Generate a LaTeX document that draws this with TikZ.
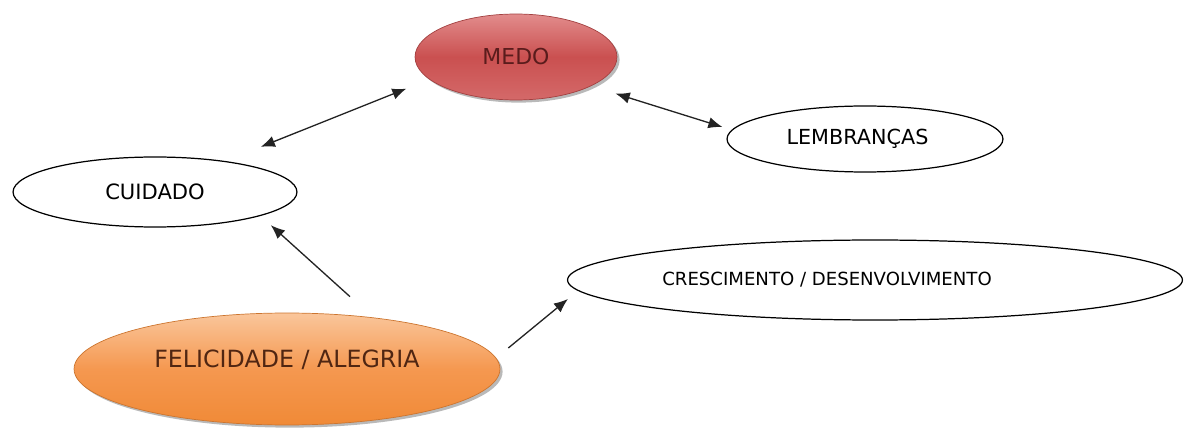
\documentclass[tikz,border=0pt]{standalone}
\usepackage{fontspec}
\setmainfont{DejaVu Sans}
\usetikzlibrary{shapes.geometric,shadows,arrows.meta}
\definecolor{medoTop}{RGB}{226,140,140}
\definecolor{medoMid}{RGB}{202,80,80}
\definecolor{medoBot}{RGB}{212,105,105}
\definecolor{medoText}{RGB}{90,28,28}
\definecolor{felTop}{RGB}{250,198,155}
\definecolor{felMid}{RGB}{245,152,80}
\definecolor{felBot}{RGB}{240,138,55}
\definecolor{felText}{RGB}{80,38,18}
\definecolor{linkGray}{RGB}{35,35,35}

\begin{document}
\begin{tikzpicture}[x=0.02cm,y=-0.02cm,
  bubble/.style={ellipse,draw=black,line width=0.7pt,fill=white,inner sep=0pt},
  hotbubble/.style={ellipse,inner sep=0pt,drop shadow={shadow xshift=1.5pt,shadow yshift=-1.5pt,opacity=0.55}},
  link/.style={draw=linkGray,line width=0.75pt,-{Latex[length=8pt,width=6.5pt]}},
  twolink/.style={link,{Latex[length=8pt,width=6.5pt]}-{Latex[length=8pt,width=6.5pt]}}]
\useasboundingbox (0,0) rectangle (1184,432);
\node[hotbubble,draw=medoMid!80!black,line width=0.4pt,top color=medoTop,bottom color=medoBot,middle color=medoMid,
  minimum width=4.04cm,minimum height=1.72cm,text=medoText,font=\fontsize{12.5}{14}\selectfont] (medo) at (516,57) {MEDO};
\node[bubble,minimum width=5.52cm,minimum height=1.32cm,font=\fontsize{11.8}{14}\selectfont] (lembrancas) at (865,139) {LEMBRANÇAS\hspace*{0.3cm}};
\node[bubble,minimum width=5.68cm,minimum height=1.40cm,font=\fontsize{12}{14}\selectfont] (cuidado) at (155,192) {CUIDADO};
\node[bubble,minimum width=12.3cm,minimum height=1.60cm,font=\fontsize{10.3}{12}\selectfont] (crescimento) at (875,280) {CRESCIMENTO / DESENVOLVIMENTO\hspace*{1.92cm}};
\node[hotbubble,draw=felBot!85!black,line width=0.4pt,top color=felTop,bottom color=felBot,middle color=felMid,
  minimum width=8.52cm,minimum height=2.24cm,text height=10pt,text depth=11.6pt,text=felText,font=\fontsize{13.5}{16}\selectfont] (felicidade) at (287,369) {FELICIDADE / ALEGRIA};
\draw[twolink] ([shift={(5,-20)}]cuidado.north east) -- ([shift={(-38,1)}]medo.south west);
\draw[twolink] ([shift={(28,6)}]medo.south east) -- ([shift={(-4,-12)}]lembrancas.west);
\draw[link] ([shift={(63,-16)}]felicidade.north) -- ([shift={(15,8)}]cuidado.south east);
\draw[link] ([shift={(8,-21)}]felicidade.east) -- ([shift={(1,19)}]crescimento.west);
\end{tikzpicture}
\end{document}
